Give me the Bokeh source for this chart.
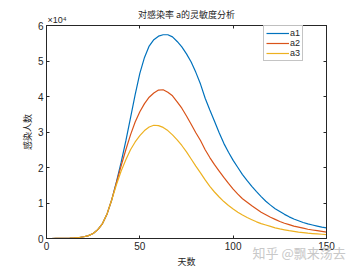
from bokeh.plotting import figure
from bokeh.models import (LinearAxis, FixedTicker, Legend, LegendItem, Title, Label, Range1d)
from bokeh.embed import file_html
from bokeh.resources import INLINE

days = [0, 2.5, 5, 7.5, 10, 12.5, 15, 17.5, 20, 22.5, 25, 27.5, 30, 32.5, 35, 37.5,
        40, 42.5, 45, 47.5, 50, 52.5, 55, 57.5, 60, 62.5, 65, 67.5, 70, 72.5, 75, 77.5,
        80, 82.5, 85, 87.5, 90, 92.5, 95, 97.5, 100, 102.5, 105, 107.5, 110, 112.5,
        115, 117.5, 120, 122.5, 125, 127.5, 130, 132.5, 135, 137.5, 140, 142.5, 145,
        147.5, 150]
rise = [0.0, 0.0, 0.001, 0.002, 0.004, 0.008, 0.015, 0.028, 0.05, 0.08, 0.14, 0.25,
        0.42, 0.7, 1.1]
a1 = rise + [1.6, 2.15, 2.75, 3.4, 4.05, 4.65, 5.1, 5.42, 5.6, 5.7, 5.74, 5.74, 5.68,
             5.55, 5.4, 5.2, 4.97, 4.68, 4.35, 3.95, 3.62, 3.3, 2.98, 2.68, 2.43, 2.2,
             2.0, 1.8, 1.63, 1.47, 1.32, 1.18, 1.05, 0.94, 0.84, 0.76, 0.68, 0.61,
             0.55, 0.5, 0.45, 0.41, 0.38, 0.35, 0.32, 0.30]
a2 = rise + [1.58, 2.05, 2.5, 2.92, 3.28, 3.57, 3.8, 3.98, 4.1, 4.18, 4.19, 4.12, 4.02,
             3.85, 3.67, 3.45, 3.22, 2.98, 2.76, 2.5, 2.28, 2.08, 1.9, 1.72, 1.55, 1.39,
             1.25, 1.12, 1.02, 0.92, 0.83, 0.74, 0.67, 0.6, 0.54, 0.48, 0.43, 0.39,
             0.35, 0.32, 0.29, 0.26, 0.24, 0.22, 0.2, 0.18]
a3 = rise + [1.52, 1.9, 2.22, 2.5, 2.72, 2.9, 3.04, 3.14, 3.19, 3.18, 3.13, 3.04, 2.92,
             2.78, 2.62, 2.44, 2.24, 2.04, 1.85, 1.65, 1.47, 1.31, 1.17, 1.04, 0.93,
             0.83, 0.74, 0.66, 0.59, 0.53, 0.47, 0.42, 0.38, 0.34, 0.3, 0.27, 0.245,
             0.22, 0.2, 0.18, 0.165, 0.15, 0.14, 0.13, 0.12, 0.11]
series_names = ["a1", "a2", "a3"]
series_colors = ["#0072BD", "#D95319", "#EDB120"]
x_ticks = [0, 50, 100, 150]
y_ticks = [0, 1, 2, 3, 4, 5, 6]
title_text = "对感染率 a的灵敏度分析"
exponent_text = "×10⁴"
x_label = "天数"
y_label = "感染人数"
watermark = "知乎 @飘来荡去"

FONT = "Liberation Sans"
CJK = "Noto Sans CJK SC"
AX = "#262626"

p = figure(width=360, height=270, output_backend="svg", toolbar_location=None,
           x_range=Range1d(0, 150), y_range=Range1d(0, 6),
           min_border_left=46, min_border_right=34, min_border_top=20,
           min_border_bottom=30, x_axis_location=None, y_axis_location=None)
p.background_fill_color = "white"
p.border_fill_color = "white"
p.outline_line_color = AX
p.outline_line_width = 1
p.grid.visible = False

def style_axis(ax, ticks, labels=True):
    ax.ticker = FixedTicker(ticks=ticks)
    ax.axis_line_color = AX
    ax.major_tick_line_color = AX
    ax.major_tick_in = 3
    ax.major_tick_out = 0
    ax.minor_tick_line_color = None
    ax.major_label_text_font = FONT
    ax.major_label_text_font_size = "10px"
    ax.major_label_text_color = AX
    ax.major_label_standoff = 3
    if not labels:
        ax.major_label_text_alpha = 0
        ax.major_label_text_font_size = "1px"
        ax.major_label_standoff = 0

xb = LinearAxis(axis_label=x_label)
style_axis(xb, x_ticks)
xb.axis_label_text_font = CJK
xb.axis_label_text_font_size = "9px"
xb.axis_label_text_font_style = "normal"
xb.axis_label_text_color = AX
xb.axis_label_standoff = 2
p.add_layout(xb, "below")

# watermark: outermost bottom title, pulled back up next to the frame
wm_title = Title(text=watermark, align="left", offset=206, vertical_align="top",
                 standoff=-56, text_font=CJK, text_font_size="13px",
                 text_font_style="normal", text_color="#c8c8c8")
p.add_layout(wm_title, "below")

yl = LinearAxis(axis_label=y_label)
style_axis(yl, y_ticks)
yl.axis_label_text_font = CJK
yl.axis_label_text_font_size = "9px"
yl.axis_label_text_font_style = "normal"
yl.axis_label_text_color = AX
yl.axis_label_standoff = 1
p.add_layout(yl, "left")

xt = LinearAxis()
style_axis(xt, x_ticks, labels=False)
p.add_layout(xt, "above")
yr = LinearAxis()
style_axis(yr, y_ticks, labels=False)
p.add_layout(yr, "right")

# exponent note: a label living in the (roomy) right panel, positioned in data units
p.add_layout(Label(x=x_ticks[0], y=y_ticks[-1], text=exponent_text, x_offset=1,
                   y_offset=1, text_baseline="bottom", text_font=FONT,
                   text_font_size="9px", text_color=AX), "right")

p.title.text = title_text
p.title.text_font = CJK
p.title.text_font_size = "9px"
p.title.text_font_style = "normal"
p.title.text_color = AX
p.title.align = "center"

renderers = []
for name, ys, c in zip(series_names, [a1, a2, a3], series_colors):
    r = p.line(days, ys, line_color=c, line_width=1.2)
    renderers.append((name, r))

legend = Legend(items=[LegendItem(label=n, renderers=[r]) for n, r in renderers],
                location=(217, 177))
legend.label_text_font = FONT
legend.label_text_font_size = "9px"
legend.label_text_color = AX
legend.label_height = 8
legend.label_width = 10
legend.label_standoff = 1
legend.glyph_width = 23
legend.glyph_height = 8
legend.spacing = 0
legend.padding = 2
legend.margin = 0
legend.border_line_color = "#8a8a8a"
legend.border_line_width = 1.5
legend.background_fill_color = "white"
p.add_layout(legend, "center")

open("out.html", "w").write(file_html(p, INLINE))
